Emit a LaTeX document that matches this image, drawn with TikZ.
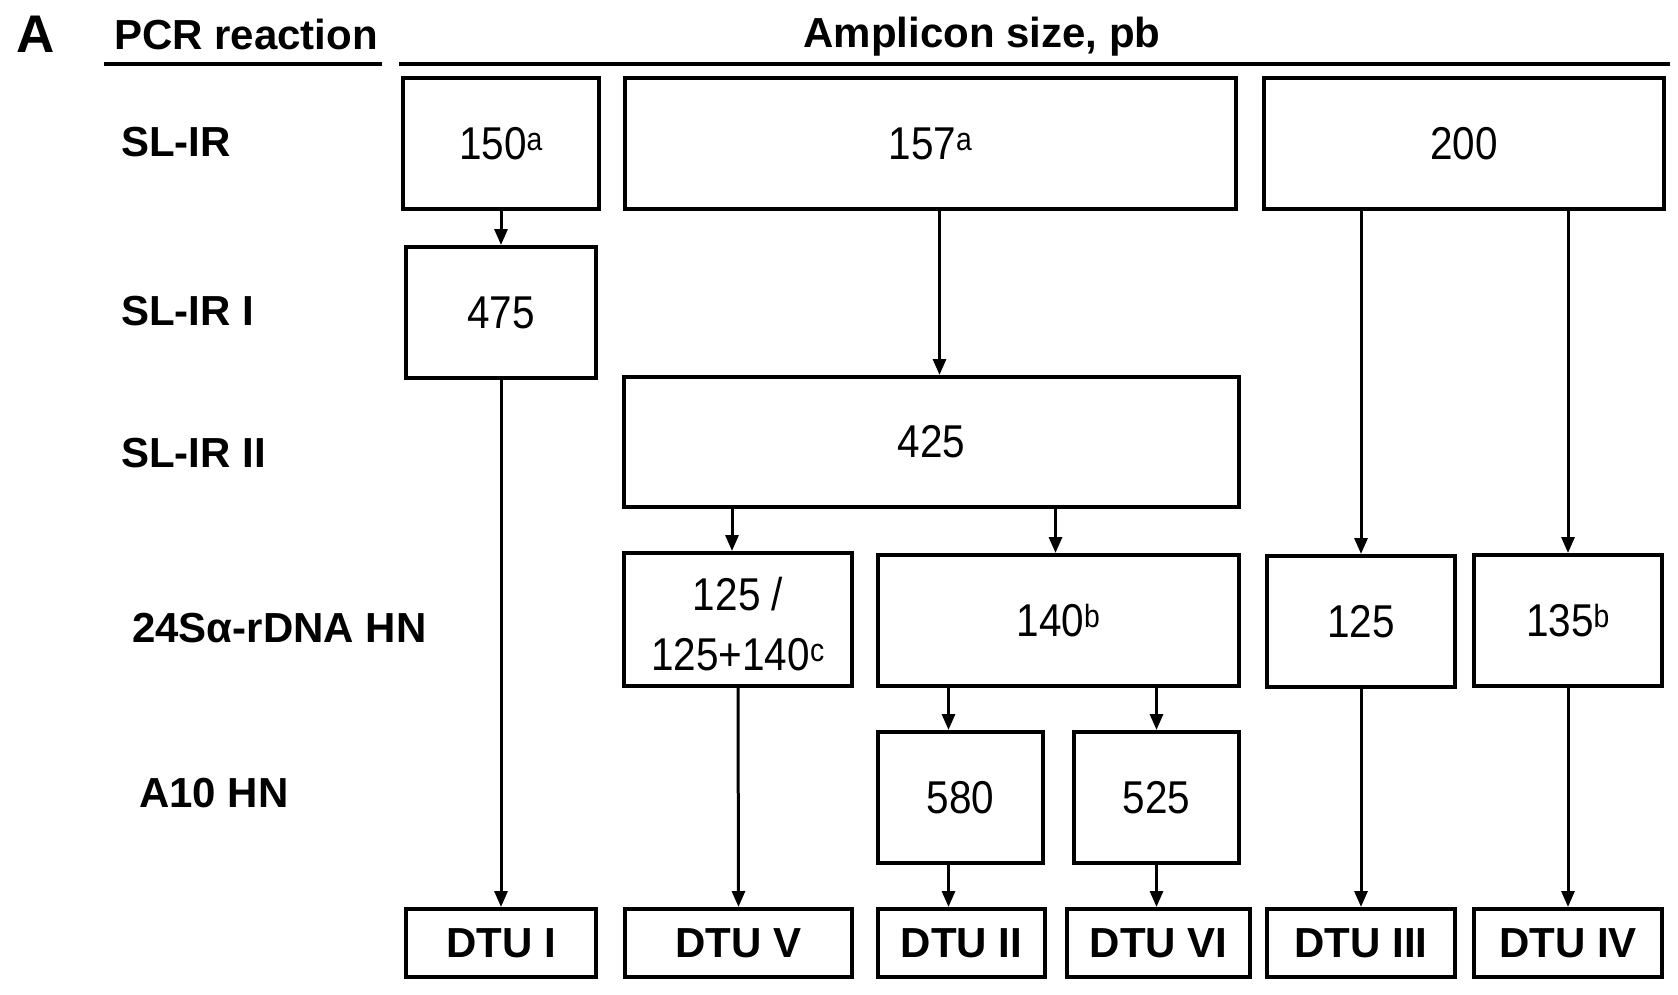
\documentclass[tikz,border=0pt]{standalone}
\usepackage{fontspec}
\setmainfont{Liberation Sans}
\newfontfamily\numfont{Liberation Sans}[FakeStretch=0.88]
\usetikzlibrary{arrows.meta}
\begin{document}
\begin{tikzpicture}[x=1pt,y=-1pt,
  box/.style={draw, line width=4pt, rectangle, inner sep=0pt, minimum height=131pt,
    font=\numfont\fontsize{46}{57}\selectfont, align=center},
  dtubox/.style={draw, line width=4pt, rectangle, inner sep=0pt, minimum height=68pt,
    font=\bfseries\fontsize{42}{50}\selectfont},
  rowlabel/.style={anchor=base west, inner sep=0pt, font=\bfseries\fontsize{42}{50}\selectfont},
  head/.style={anchor=base, inner sep=0pt, font=\bfseries\fontsize{42}{50}\selectfont},
  arr/.style={line width=3pt, -{Triangle[length=16pt,width=13pt]}},
  rule/.style={line width=4pt}]
\useasboundingbox (0,0) rectangle (1678,995);
% header
\node[anchor=base, inner sep=0pt, font=\bfseries\fontsize{53}{60}\selectfont] (lA) at (36,53) {A};
\node[head] (lpcr) at (246,50) {PCR reaction};
\node[head] (lamp) at (982,48) {Amplicon size, pb};
\coordinate (r1a) at (104,64); \coordinate (r1b) at (382,64);
\coordinate (r2a) at (399,64); \coordinate (r2b) at (1670,64);
\draw[rule] (r1a) -- (r1b);
\draw[rule] (r2a) -- (r2b);
% row labels
\node[rowlabel] (row1) at (121,157) {SL-IR};
\node[rowlabel] (row2) at (121,325) {SL-IR I};
\node[rowlabel] (row3) at (121,467) {SL-IR II};
\node[rowlabel] (row4) at (132,642) {24Sα-rDNA HN};
\node[rowlabel] (row5) at (139,807) {A10 HN};
% boxes
\node[box, minimum width=196pt] (b150) at (501,143.5) {150\textsuperscript{a}};
\node[box, minimum width=611pt] (b157) at (930.5,143.5) {157\textsuperscript{a}};
\node[box, minimum width=400pt] (b200) at (1464,143.5) {200};
\node[box, minimum width=190pt] (b475) at (501,312.5) {475};
\node[box, minimum width=615pt, minimum height=130pt] (b425) at (931.5,442) {425};
\node[box, minimum width=228pt, minimum height=133pt] (b125a) at (738,619.5)
  {\raisebox{-16pt}[0pt][0pt]{\begin{tabular}{@{}c@{}}125 /\\[3pt]125+140\textsuperscript{c}\end{tabular}}};
\node[box, minimum width=361pt] (b140) at (1058.5,620.5) {140\textsuperscript{b}};
\node[box, minimum width=188pt] (b125b) at (1361,621.5) {125};
\node[box, minimum width=188pt] (b135) at (1568,620.5) {135\textsuperscript{b}};
\node[box, minimum width=165pt] (b580) at (960.5,797.5) {580};
\node[box, minimum width=165pt] (b525) at (1156.5,797.5) {525};
% DTU
\node[dtubox, minimum width=190pt] (d1) at (501,943) {DTU I};
\node[dtubox, minimum width=227pt] (d5) at (738.5,943) {DTU V};
\node[dtubox, minimum width=167pt] (d2) at (961.5,943) {DTU II};
\node[dtubox, minimum width=183pt] (d6) at (1158.5,943) {DTU VI};
\node[dtubox, minimum width=188pt] (d3) at (1361,943) {DTU III};
\node[dtubox, minimum width=188pt] (d4) at (1568,943) {DTU IV};
% arrows
\draw[arr] (b150.south) -- (b475.north);
\draw[arr] ([xshift=9pt]b157.south) -- ([xshift=8pt]b425.north);
\draw[arr] (b125b.north |- b200.south) -- (b125b.north);
\draw[arr] (b135.north |- b200.south) -- (b135.north);
\draw[arr] (b475.south) -- (d1.north);
\draw[arr] ([xshift=-6pt]b125a.north |- b425.south) -- ([xshift=-6pt]b125a.north);
\draw[arr] ([xshift=-3pt]b140.north |- b425.south) -- ([xshift=-3pt]b140.north);
\draw[arr] (b125a.south) -- (d5.north);
\draw[arr] ([xshift=-12pt]b580.north |- b140.south) -- ([xshift=-12pt]b580.north);
\draw[arr] (b525.north |- b140.south) -- (b525.north);
\draw[arr] ([xshift=-12pt]b580.south) -- ([xshift=-12pt]b580.south |- d2.north);
\draw[arr] (b525.south) -- (b525.south |- d6.north);
\draw[arr] (b125b.south) -- (d3.north);
\draw[arr] (b135.south) -- (d4.north);
\end{tikzpicture}
\end{document}
